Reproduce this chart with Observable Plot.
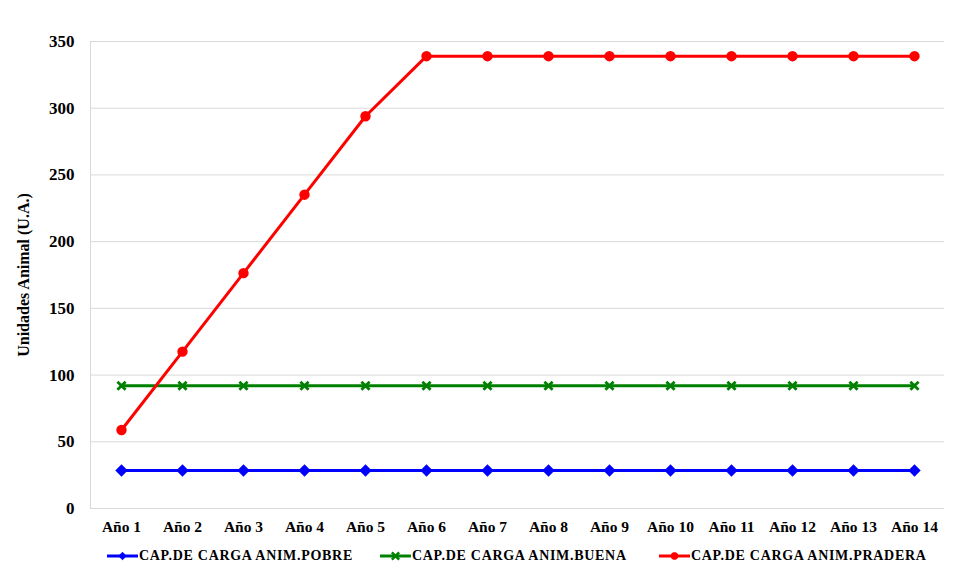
<!DOCTYPE html>
<html>
<head>
<meta charset="utf-8">
<script src="https://cdn.jsdelivr.net/npm/d3@7"></script>
<script src="https://cdn.jsdelivr.net/npm/@observablehq/plot@0.6"></script>
<style>
  body { margin: 0; background: #fff; font-family: "Liberation Serif", serif; }
  #chart svg { display: block; font-family: "Liberation Serif", serif !important; }
  #chart svg text { font-family: "Liberation Serif", serif !important; font-weight: bold; }
  #legend { height: 36px; font-weight: bold; font-size: 14px; letter-spacing: 0.7px; color: #000; position: relative; font-family: "Liberation Serif", serif; }
  .item { position: absolute; display: flex; align-items: center; top: 3px; }
  .item svg { margin-right: 1px; }
</style>
</head>
<body>
<div id="chart"></div>
<div id="legend"></div>
<script>
const categories = ["Año 1","Año 2","Año 3","Año 4","Año 5","Año 6","Año 7","Año 8","Año 9","Año 10","Año 11","Año 12","Año 13","Año 14"];
const seriesNames = ["CAP.DE CARGA ANIM.POBRE","CAP.DE CARGA ANIM.BUENA","CAP.DE CARGA ANIM.PRADERA"];
const pobre   = [28.5,28.5,28.5,28.5,28.5,28.5,28.5,28.5,28.5,28.5,28.5,28.5,28.5,28.5];
const buena   = [92,92,92,92,92,92,92,92,92,92,92,92,92,92];
const pradera = [58.8,117.6,176.4,235.2,294,339,339,339,339,339,339,339,339,339];
const yTicks = [0,50,100,150,200,250,300,350];
const colors = ["#0000ff","#008000","#ff0000"];
const symbols = ["diamond2","times","circle"];

const valuesBySeries = [pobre, buena, pradera];
const data = [];
seriesNames.forEach((s, i) => valuesBySeries[i].forEach((v, j) => data.push({series: s, cat: categories[j], value: v})));

const chart = Plot.plot({
  width: 957,
  height: 545,
  marginLeft: 90,
  marginRight: 13,
  marginTop: 41,
  marginBottom: 37,
  style: {fontFamily: "Liberation Serif, serif", fontSize: "16px", fontWeight: "bold", color: "#000", background: "#fff"},
  x: {type: "point", domain: categories, padding: 0.5, label: null},
  y: {domain: [0, 350], label: null},
  color: {domain: seriesNames, range: colors},
  symbol: {domain: seriesNames, range: symbols},
  marks: [
    Plot.gridY(yTicks.filter(d => d > 0), {stroke: "#d9d9d9", strokeOpacity: 1, strokeWidth: 1}),
    Plot.frame({anchor: "left", stroke: "#d9d9d9"}),
    Plot.ruleY([0], {stroke: "#d9d9d9"}),
    Plot.axisY({ticks: yTicks, tickSize: 0, tickPadding: 16, fontSize: 17, fontWeight: "bold", label: null}),
    Plot.axisX({tickSize: 0, tickPadding: 12, fontSize: 15.5, fontWeight: "bold", label: null}),
    Plot.text(["Unidades Animal (U.A.)"], {frameAnchor: "left", textAnchor: "middle", dx: -67, rotate: -90, fontSize: 16, fontWeight: "bold", fill: "#000"}),
    Plot.line(data, {x: "cat", y: "value", z: "series", stroke: "series", strokeWidth: 3}),
    Plot.dot(data, {x: "cat", y: "value", symbol: "series", fill: "series", stroke: "series", r: 3.8, strokeWidth: 2.8})
  ]
});
document.getElementById("chart").appendChild(chart);

// legend
const legend = document.getElementById("legend");
const lefts = [107, 380, 659];
seriesNames.forEach((s, i) => {
  const item = document.createElement("div");
  item.className = "item";
  item.style.left = lefts[i] + "px";
  const sw = d3.create("svg").attr("width", 31).attr("height", 14);
  sw.append("line").attr("x1", 0).attr("x2", 31).attr("y1", 7).attr("y2", 7).attr("stroke", colors[i]).attr("stroke-width", 3);
  const sym = d3.symbol().type([d3.symbolDiamond2, d3.symbolTimes, d3.symbolCircle][i]).size(36)();
  sw.append("path").attr("d", sym).attr("transform", "translate(15.5,7)").attr("fill", colors[i]).attr("stroke", colors[i]).attr("stroke-width", i === 1 ? 2.5 : 1);
  item.appendChild(sw.node());
  const t = document.createElement("span");
  t.textContent = s;
  item.appendChild(t);
  legend.appendChild(item);
});
</script>
</body>
</html>
